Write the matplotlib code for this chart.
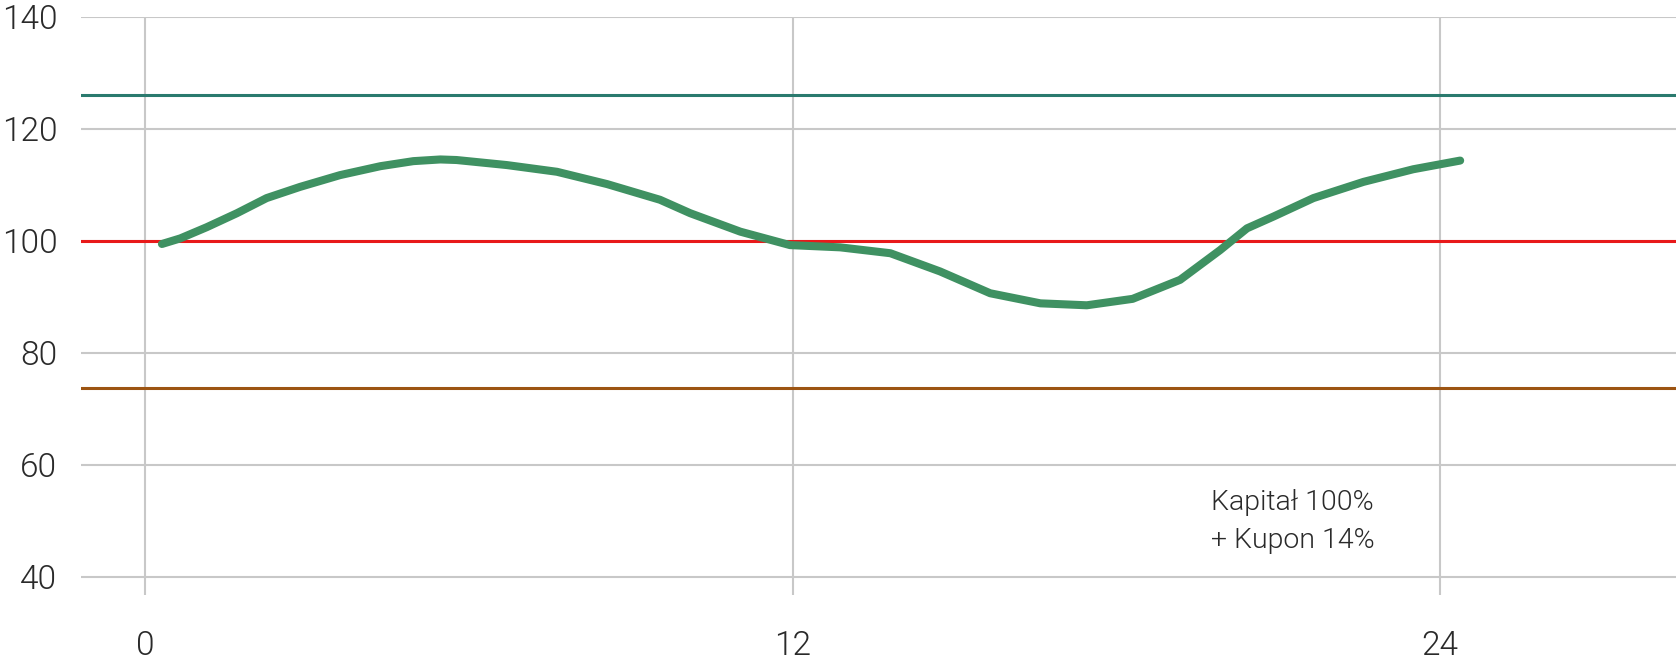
import matplotlib
matplotlib.use("Agg")
import matplotlib.pyplot as plt

# ---- data ----
months = [0.31, 0.65, 1.14, 1.70, 2.25, 2.87, 3.61, 4.36, 4.97, 5.47, 5.77, 6.70, 7.63,
          8.56, 9.54, 10.10, 11.03, 11.95, 12.88, 13.81, 14.73, 15.66, 16.59, 17.45,
          18.30, 19.18, 19.92, 20.42, 20.91, 21.65, 22.58, 23.50, 24.37]
value = [99.4, 100.4, 102.4, 104.9, 107.6, 109.6, 111.7, 113.3, 114.2, 114.5, 114.4, 113.5, 112.3,
         110.1, 107.3, 104.9, 101.6, 99.2, 98.8, 97.75, 94.5, 90.6, 88.8, 88.45,
         89.6, 93.0, 98.3, 102.2, 104.3, 107.6, 110.5, 112.75, 114.3]

level_upper = 126.0    # teal
level_capital = 100.0  # red
level_barrier = 73.7   # brown

x_ticks = [0, 12, 24]
y_ticks = [40, 60, 80, 100, 120, 140]
note_text = "Kapitał 100%\n+ Kupon 14%"

# ---- figure ----
W, H = 1676, 659
fig = plt.figure(figsize=(W / 100, H / 100), dpi=100)
ax = fig.add_axes([81 / W, 1 - 595 / H, 1 - 81 / W, (595 - 16.7) / H])

family = ["Roboto", "DejaVu Sans"]
text_color = "#2a2a2a"
grid_color = "#c8c8c8"

ax.set_xlim(-1.19, 28.37)
ax.set_ylim(36.7, 140)
ax.set_xticks(x_ticks)
ax.set_yticks(y_ticks)
ax.grid(True, color=grid_color, linewidth=1.5)
ax.set_axisbelow(True)
for s in ax.spines.values():
    s.set_visible(False)
ax.tick_params(length=0)
ax.tick_params(axis="y", pad=17, labelsize=24, labelcolor=text_color)
ax.tick_params(axis="x", pad=25, labelsize=24, labelcolor=text_color)
for lab in ax.get_xticklabels() + ax.get_yticklabels():
    lab.set_family(family)
    lab.set_fontweight(300)

ax.axhline(level_upper, color="#2a7a6e", linewidth=2.2, zorder=2)
ax.axhline(level_capital, color="#e8191a", linewidth=2.2, zorder=2)
ax.axhline(level_barrier, color="#9c5412", linewidth=2.2, zorder=2)

ax.plot(months, value, color="#3f9162", linewidth=5.8, solid_capstyle="round",
        solid_joinstyle="round", zorder=3)

ax.text(19.75, 55.6, note_text, fontsize=20.5, color=text_color, va="top", ha="left",
        linespacing=1.5, family=family, fontweight=300)

fig.savefig("out.png", dpi=100)
